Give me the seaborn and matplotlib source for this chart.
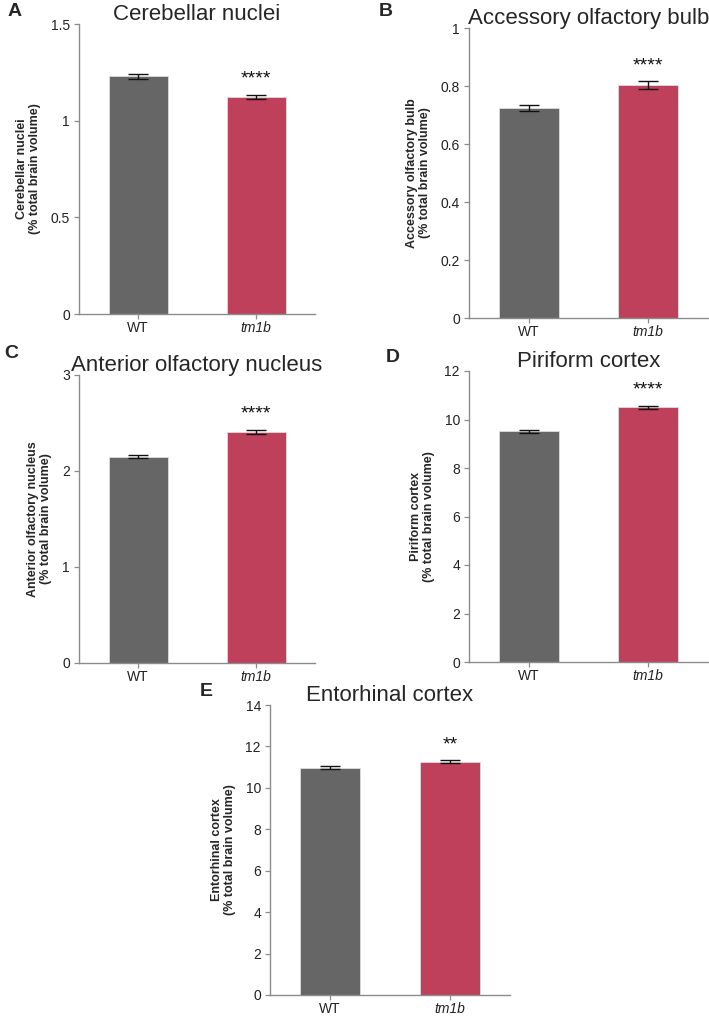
import matplotlib
matplotlib.use("Agg")
import matplotlib.pyplot as plt
import seaborn as sns
import pandas as pd

sns.set_style("white")
plt.rcParams['font.family'] = ['Liberation Sans', 'DejaVu Sans']

# data
groups = ["WT", "tm1b"]
titles = ["Cerebellar nuclei", "Accessory olfactory bulb", "Anterior olfactory nucleus",
          "Piriform cortex", "Entorhinal cortex"]
letters = ["A", "B", "C", "D", "E"]
ylabels = ["Cerebellar nuclei", "Accessory olfactory bulb", "Anterior olfactory nucleus",
           "Piriform cortex", "Entorhinal cortex"]
means = [[1.23, 1.122], [0.725, 0.803], [2.15, 2.407], [9.51, 10.50], [10.98, 11.26]]
sems = [[0.012, 0.012], [0.010, 0.013], [0.018, 0.025], [0.06, 0.07], [0.07, 0.07]]
stars = ["****", "****", "****", "****", "**"]
ymax = [1.5, 1.0, 3.0, 12.0, 14.0]
yticks = [[0, 0.5, 1, 1.5], [0, 0.2, 0.4, 0.6, 0.8, 1],
          [0, 1, 2, 3], [0, 2, 4, 6, 8, 10, 12], [0, 2, 4, 6, 8, 10, 12, 14]]
yticklabels = [["0", "0.5", "1", "1.5"], ["0", "0.2", "0.4", "0.6", "0.8", "1"],
               ["0", "1", "2", "3"], ["0", "2", "4", "6", "8", "10", "12"],
               ["0", "2", "4", "6", "8", "10", "12", "14"]]

colors = ["#666666", "#be405a"]

W, H = 709, 1016
# axes boxes in pixels: left, top, right, bottom
boxes = [(79, 24, 315, 314), (469, 28, 708, 318), (79, 375, 315, 663),
         (469, 371, 708, 662), (270, 705, 510, 995)]
letter_pos = [(8, 11), (379, 11), (4, 353), (386, 358), (200, 692)]

fig = plt.figure(figsize=(W / 100, H / 100), dpi=100)

for i in range(5):
    l, t, r, b = boxes[i]
    ax = fig.add_axes([l / W, 1 - b / H, (r - l) / W, (b - t) / H])
    df = pd.DataFrame({"group": groups, "value": means[i]})
    sns.barplot(data=df, x="group", y="value", hue="group", palette=colors,
                order=groups, width=0.5, errorbar=None, legend=False, ax=ax,
                saturation=1, edgecolor="#dcdcdc", linewidth=0.6)
    centers = [p.get_x() + p.get_width() / 2 for p in ax.patches]
    ax.errorbar(centers, means[i], yerr=sems[i], fmt="none", ecolor="#111111",
                elinewidth=1.0, capsize=7, capthick=1.0)
    # significance stars above tm1b bar
    ax.annotate(stars[i], (centers[1], means[i][1] + sems[i][1]),
                xytext=(0, 5), textcoords="offset points", ha="center", va="bottom",
                fontsize=14, color="#111111")
    ax.set_xlim(-0.5, 1.5)
    ax.set_ylim(0, ymax[i])
    ax.set_yticks(yticks[i])
    ax.set_yticklabels(yticklabels[i])
    ax.set_xlabel("")
    ax.set_ylabel(ylabels[i] + "\n(% total brain volume)", fontsize=9,
                  fontweight="bold", labelpad=7, linespacing=1.1)
    ax.set_title(titles[i], fontsize=16, pad=3)
    ax.tick_params(axis="both", labelsize=10, color="#8c8c8c", length=3.5,
                   width=0.9, labelcolor="#222222", pad=3, bottom=True, left=True)
    ax.tick_params(axis="x", pad=1.5)
    ax.get_xticklabels()[1].set_fontstyle("italic")
    for s in ["top", "right"]:
        ax.spines[s].set_visible(False)
    for s in ["left", "bottom"]:
        ax.spines[s].set_color("#8c8c8c")
        ax.spines[s].set_linewidth(1.0)
    fig.text(letter_pos[i][0] / W, 1 - letter_pos[i][1] / H, letters[i],
             fontsize=14, fontweight="bold", va="center", ha="left")

fig.savefig("out.png", dpi=100)
